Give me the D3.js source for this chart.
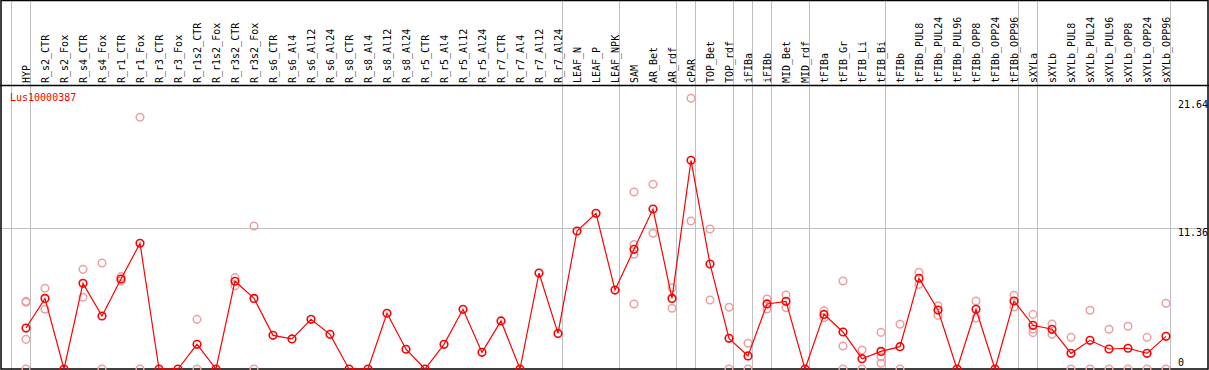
<!DOCTYPE html>
<html>
<head>
<meta charset="utf-8">
<script src="https://cdn.jsdelivr.net/npm/d3@7"></script>
<style>
  body { margin: 0; background: #fff; }
  svg { display: block; }
  text { font-family: "DejaVu Sans Mono", "Liberation Mono", monospace; font-size: 10px; }
</style>
</head>
<body>
<div id="chart"></div>
<script>
// sample names (columns)
var samples = ["HYP","R_s2_CTR","R_s2_Fox","R_s4_CTR","R_s4_Fox","R_r1_CTR","R_r1_Fox","R_r3_CTR","R_r3_Fox",
  "R_r1s2_CTR","R_r1s2_Fox","R_r3s2_CTR","R_r3s2_Fox","R_s6_CTR","R_s6_Al4","R_s6_Al12","R_s6_Al24",
  "R_s8_CTR","R_s8_Al4","R_s8_Al12","R_s8_Al24","R_r5_CTR","R_r5_Al4","R_r5_Al12","R_r5_Al24",
  "R_r7_CTR","R_r7_Al4","R_r7_Al12","R_r7_Al24","LEAF_N","LEAF_P","LEAF_NPK","SAM","AR_Bet","AR_rdf",
  "cPAR","TOP_Bet","TOP_rdf","iFIBa","iFIBb","MID_Bet","MID_rdf","tFIBa","tFIB_Gr","tFIB_Li","tFIB_Bi",
  "tFIBb","tFIBb_PUL8","tFIBb_PUL24","tFIBb_PUL96","tFIBb_OPP8","tFIBb_OPP24","tFIBb_OPP96",
  "sXYLa","sXYLb","sXYLb_PUL8","sXYLb_PUL24","sXYLb_PUL96","sXYLb_OPP8","sXYLb_OPP24","sXYLb_OPP96"];

// mean expression per sample
var meanExpr = [3.30,5.69,0,6.90,4.27,7.25,10.13,0,0,1.99,0,7.07,5.69,2.71,2.42,4.00,2.79,0,0,4.49,1.59,
  0,1.99,4.81,1.34,3.87,0,7.73,2.87,11.12,12.54,6.36,9.64,12.89,5.69,16.81,8.46,2.47,1.05,5.24,5.45,0,
  4.40,2.98,0.83,1.42,1.80,7.31,4.75,0,4.81,0,5.48,3.52,3.20,1.26,2.31,1.61,1.67,1.26,2.63];

// individual replicates (only those visible apart from the mean)
var replicates = [[5.45,5.38,2.39,0],[6.50,4.81],[],[8.03,5.78],[8.54,0],[7.44,7.10],[20.28,0],[],[],
  [4.00,0],[],[7.36,6.71],[11.52,0],[],[],[],[],[],[],[],[],[],[],[],[],[],[],[],[],[],[],[],
  [14.26,10.02,9.24,5.24],[14.88,10.93],[6.55,4.89],[21.81,11.92],[11.28,5.56],[4.97,0],[2.07,0],
  [5.64,4.83],[5.96,4.94],[],[4.70,4.13],[7.09,1.85,0],[1.53,0],[2.95,0.99,0.46],[3.60,0],
  [7.79,6.82],[5.10,4.32],[],[5.48,4.11],[],[5.94,5.00],[4.40,3.20,2.93],[3.63,2.79],[2.55,0],
  [4.73,0],[3.20,0],[3.44,0],[2.55,0],[5.29,0]];

// group separators: drawn after these column indexes (-1 = before first)
var groupBreaks = [-1,0,28,31,34,35,37,38,39,41,45,52,53,60];
var yTicks = [0, 11.36, 21.64];
var geneName = "Lus10000387";

const WIDTH = 1209, HEIGHT = 370;
const HEADER = 85;

var svg = d3.select("#chart").append("svg")
  .attr("width", WIDTH)
  .attr("height", HEIGHT);

var x = d3.scalePoint().domain(samples).range([26, 1166]);
var y = d3.scaleLinear().domain([0, 11.36]).range([369, 228]);
var step = x.step();

// grid
svg.append("line")
  .attr("x1", 0).attr("x2", WIDTH)
  .attr("y1", Math.round(y(11.36)) + 0.5).attr("y2", Math.round(y(11.36)) + 0.5)
  .attr("stroke", "#c0c0c0");
svg.selectAll("line.vgrid")
  .data(groupBreaks)
  .enter().append("line")
  .attr("class", "vgrid")
  .attr("x1", function(d) { return Math.round(x(samples[0]) + step * d + 4) + 0.5; })
  .attr("x2", function(d) { return Math.round(x(samples[0]) + step * d + 4) + 0.5; })
  .attr("y1", 0).attr("y2", HEIGHT)
  .attr("stroke", "#c0c0c0");

// frame and header line
svg.append("rect")
  .attr("x", 1).attr("y", 0.5).attr("width", 1207).attr("height", 368.5)
  .attr("fill", "none").attr("stroke", "#000").attr("stroke-width", 1.5);
svg.append("line")
  .attr("x1", 0).attr("x2", WIDTH)
  .attr("y1", HEADER + 0.5).attr("y2", HEADER + 0.5)
  .attr("stroke", "#000").attr("stroke-width", 1.5);

// column labels
svg.selectAll("text.col")
  .data(samples)
  .enter().append("text")
  .attr("class", "col")
  .attr("transform", function(d) { return "translate(" + (x(d) + 4) + "," + (HEADER - 2) + ") rotate(-90)"; })
  .text(function(d) { return d; });

// right axis labels
svg.selectAll("text.tick")
  .data(yTicks)
  .enter().append("text")
  .attr("class", "tick")
  .attr("x", 1178)
  .attr("y", function(d) { return d === 0 ? y(d) - 3 : y(d) + 8; })
  .text(function(d) { return d; });

svg.append("text")
  .attr("x", 10).attr("y", 101)
  .attr("fill", "#ff0000")
  .text(geneName);

// replicates
var repPts = [];
replicates.forEach(function(r, i) {
  r.forEach(function(v) { repPts.push({s: samples[i], v: v}); });
});
svg.append("g").selectAll("circle")
  .data(repPts)
  .enter().append("circle")
  .attr("cx", function(d) { return x(d.s); })
  .attr("cy", function(d) { return y(d.v); })
  .attr("r", 3.8)
  .attr("fill", "none")
  .attr("stroke", "#eea0a0")
  .attr("stroke-width", 1.5);

// mean line
var line = d3.line()
  .x(function(d, i) { return x(samples[i]); })
  .y(function(d) { return y(d); });
svg.append("path")
  .datum(meanExpr)
  .attr("d", line)
  .attr("fill", "none")
  .attr("stroke", "#ff0000")
  .attr("stroke-width", 1.2);

svg.append("g").selectAll("circle")
  .data(meanExpr)
  .enter().append("circle")
  .attr("cx", function(d, i) { return x(samples[i]); })
  .attr("cy", function(d) { return y(d); })
  .attr("r", 3.8)
  .attr("fill", "none")
  .attr("stroke", "#ff0000")
  .attr("stroke-width", 1.6);
</script>
</body>
</html>
